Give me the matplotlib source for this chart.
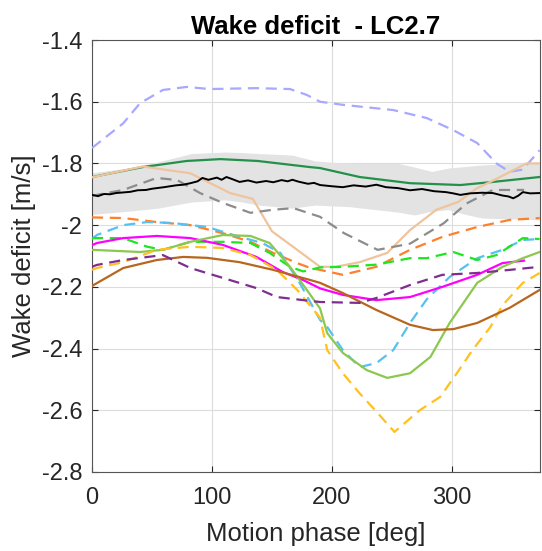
import numpy as np
import matplotlib.pyplot as plt

plt.rcParams['font.family'] = ['Liberation Sans', 'DejaVu Sans']

# mean measured wake deficit (black) and its spread (grey band)
mean_x = [0, 5, 10, 15, 20, 26, 32, 38, 45, 50, 54, 60, 65, 70, 76, 82, 88, 92, 97, 101, 104, 108, 112,
          117, 123, 130, 137, 145, 151, 158, 163, 167, 172, 180, 185, 190, 200, 209, 218, 228, 237, 245,
          255, 265, 275, 285, 295, 301, 307, 315, 325, 334, 342, 347, 351, 355, 359, 365, 373]
mean_y = [-1.902, -1.906, -1.899, -1.900, -1.896, -1.894, -1.892, -1.887, -1.886, -1.882, -1.880, -1.877,
          -1.874, -1.871, -1.869, -1.864, -1.858, -1.847, -1.853, -1.849, -1.846, -1.853, -1.844, -1.851,
          -1.860, -1.855, -1.862, -1.857, -1.861, -1.854, -1.858, -1.853, -1.859, -1.866, -1.863, -1.870,
          -1.874, -1.877, -1.871, -1.875, -1.869, -1.877, -1.880, -1.887, -1.883, -1.890, -1.893, -1.897,
          -1.902, -1.897, -1.895, -1.896, -1.904, -1.907, -1.913, -1.905, -1.893, -1.897, -1.896]

band_x = [0, 30, 55, 83, 111, 125, 139, 167, 186, 214, 255, 269, 283, 297, 311, 325, 352, 373]
band_hi = [-1.83, -1.815, -1.795, -1.768, -1.763, -1.765, -1.768, -1.773, -1.792, -1.80, -1.80,
           -1.812, -1.826, -1.815, -1.81, -1.805, -1.80, -1.797]
band_lo = [-1.965, -1.955, -1.945, -1.925, -1.918, -1.925, -1.935, -1.945, -1.935, -1.94, -1.958,
           -1.967, -1.955, -1.95, -1.965, -1.977, -1.98, -1.983]

# simulation curves
lav_x = [0, 26, 40, 59, 79, 98, 137, 165, 179, 190, 209, 251, 279, 301, 321, 337, 348, 359, 373]
lav_y = [-1.75, -1.67, -1.605, -1.562, -1.552, -1.559, -1.556, -1.559, -1.578, -1.60, -1.61, -1.627,
         -1.653, -1.692, -1.734, -1.80, -1.827, -1.82, -1.757]

dgreen_x = [0, 4, 42, 79, 107, 138, 182, 190, 223, 265, 307, 334, 373]
dgreen_y = [-1.845, -1.841, -1.812, -1.792, -1.786, -1.792, -1.812, -1.815, -1.844, -1.864, -1.870,
            -1.860, -1.844]

tan_x = [0, 42, 82, 115, 134, 150, 171, 190, 203, 223, 246, 265, 287, 305, 321, 335, 362, 373]
tan_y = [-1.845, -1.81, -1.832, -1.896, -1.915, -2.02, -2.08, -2.135, -2.135, -2.12, -2.09, -2.016,
         -1.95, -1.925, -1.88, -1.854, -1.80, -1.80]

gdash_x = [0, 26, 54, 71, 90, 109, 132, 151, 168, 190, 210, 238, 265, 293, 312, 334, 354, 360]
gdash_y = [-1.905, -1.886, -1.847, -1.854, -1.896, -1.928, -1.96, -1.95, -1.945, -1.973, -2.026,
           -2.08, -2.06, -1.994, -1.93, -1.886, -1.886, -1.886]

orange_x = [0, 26, 54, 82, 109, 132, 151, 171, 182, 190, 209, 237, 265, 292, 321, 348, 373]
orange_y = [-1.975, -1.977, -1.99, -2.0, -2.026, -2.054, -2.09, -2.123, -2.139, -2.145, -2.161,
            -2.135, -2.08, -2.038, -2.006, -1.983, -1.977]

cyan_x = [0, 4, 26, 46, 67, 96, 123, 142, 157, 173, 190, 196, 209, 223, 237, 251, 265, 279, 298,
          321, 342, 359, 373]
cyan_y = [-2.045, -2.032, -2.0, -1.99, -1.993, -2.006, -2.038, -2.058, -2.09, -2.187, -2.307, -2.33,
          -2.405, -2.46, -2.447, -2.405, -2.317, -2.24, -2.168, -2.107, -2.08, -2.048, -2.045]

lime_x = [0, 26, 46, 59, 82, 109, 132, 148, 165, 176, 190, 209, 237, 265, 279, 301, 321, 337, 359, 373]
lime_y = [-2.042, -2.042, -2.07, -2.08, -2.054, -2.054, -2.058, -2.09, -2.135, -2.15, -2.137, -2.135,
          -2.128, -2.107, -2.107, -2.087, -2.113, -2.097, -2.042, -2.045]

mag_x = [0, 4, 26, 54, 82, 109, 137, 159, 176, 190, 209, 237, 265, 292, 321, 342, 360]
mag_y = [-2.065, -2.058, -2.042, -2.035, -2.042, -2.064, -2.103, -2.152, -2.178, -2.205, -2.226,
         -2.243, -2.233, -2.20, -2.161, -2.123, -2.115]

lgreen_x = [0, 40, 59, 82, 109, 132, 148, 165, 179, 190, 196, 209, 229, 246, 265, 282, 298, 321,
            342, 359, 373]
lgreen_y = [-2.08, -2.087, -2.08, -2.054, -2.032, -2.035, -2.058, -2.135, -2.21, -2.27, -2.35,
            -2.414, -2.47, -2.495, -2.48, -2.427, -2.317, -2.187, -2.135, -2.107, -2.087]

gold_x = [0, 4, 26, 54, 82, 109, 132, 154, 171, 190, 196, 209, 223, 236, 252, 273, 290, 304, 317,
          332, 342, 359, 373]
gold_y = [-2.145, -2.139, -2.12, -2.08, -2.07, -2.074, -2.097, -2.145, -2.21, -2.30, -2.405, -2.48,
          -2.545, -2.60, -2.67, -2.60, -2.557, -2.48, -2.405, -2.33, -2.26, -2.187, -2.155]

brown_x = [0, 26, 54, 76, 96, 123, 151, 182, 190, 209, 237, 265, 284, 301, 321, 348, 373]
brown_y = [-2.197, -2.139, -2.113, -2.103, -2.106, -2.12, -2.145, -2.178, -2.187, -2.22, -2.275,
           -2.323, -2.34, -2.337, -2.317, -2.268, -2.21]

purple_x = [0, 4, 26, 59, 82, 109, 137, 154, 176, 190, 223, 237, 265, 292, 321, 348, 373]
purple_y = [-2.135, -2.129, -2.113, -2.097, -2.139, -2.171, -2.204, -2.233, -2.243, -2.249, -2.252,
            -2.236, -2.194, -2.161, -2.155, -2.145, -2.135]

fig = plt.figure(figsize=(5.42, 5.51), dpi=100)
ax = fig.add_axes([92 / 542, 79 / 551, 448 / 542, 432 / 551])

ax.fill_between(band_x, band_lo, band_hi, color='#e3e3e3', lw=0, zorder=1)

dash = (5, 3)
ax.plot(lav_x, lav_y, color='#a8a8ff', lw=1.6, dashes=dash, zorder=3)
ax.plot(dgreen_x, dgreen_y, color='#23914a', lw=1.6, zorder=3)
ax.plot(tan_x, tan_y, color='#efc49c', lw=1.6, zorder=3)
ax.plot(gdash_x, gdash_y, color='#8c8c8c', lw=1.6, dashes=dash, zorder=3)
ax.plot(mean_x, mean_y, color='k', lw=1.4, zorder=4)
ax.plot(orange_x, orange_y, color='#ff7f2a', lw=1.6, dashes=dash, zorder=3)
ax.plot(cyan_x, cyan_y, color='#56c1f0', lw=1.6, dashes=dash, zorder=3)
ax.plot(lime_x, lime_y, color='#1ee61e', lw=1.6, dashes=dash, zorder=3)
ax.plot(mag_x, mag_y, color='#ff00ff', lw=1.6, zorder=3)
ax.plot(lgreen_x, lgreen_y, color='#8cc850', lw=1.6, zorder=3)
ax.plot(gold_x, gold_y, color='#ffc020', lw=1.6, dashes=dash, zorder=3)
ax.plot(brown_x, brown_y, color='#b8661e', lw=1.6, zorder=3)
ax.plot(purple_x, purple_y, color='#7e2f8e', lw=1.6, dashes=dash, zorder=3)

ax.set_xlim(0, 373.3)
ax.set_ylim(-2.8, -1.4)
ax.set_xticks([0, 100, 200, 300])
ax.set_yticks(np.arange(-2.8, -1.39, 0.2))
ax.set_yticklabels(['-2.8', '-2.6', '-2.4', '-2.2', '-2', '-1.8', '-1.6', '-1.4'])
ax.grid(True, color='#dcdcdc', lw=0.8)
ax.set_axisbelow(True)
ax.tick_params(direction='in', length=4, width=0.8, top=True, right=True,
               labelsize=17, colors='#262626', pad=7)
ax.tick_params(axis='x', pad=11)
for s in ax.spines.values():
    s.set_color('#555555')
    s.set_linewidth(0.8)

ax.set_xlabel('Motion phase [deg]', fontsize=18.5, color='#262626', labelpad=9)
ax.set_ylabel('Wake deficit [m/s]', fontsize=18.5, color='#262626', labelpad=4)
ax.set_title('Wake deficit  - LC2.7', fontsize=18.5, fontweight='bold', pad=4)

fig.savefig('out.png', dpi=100)
